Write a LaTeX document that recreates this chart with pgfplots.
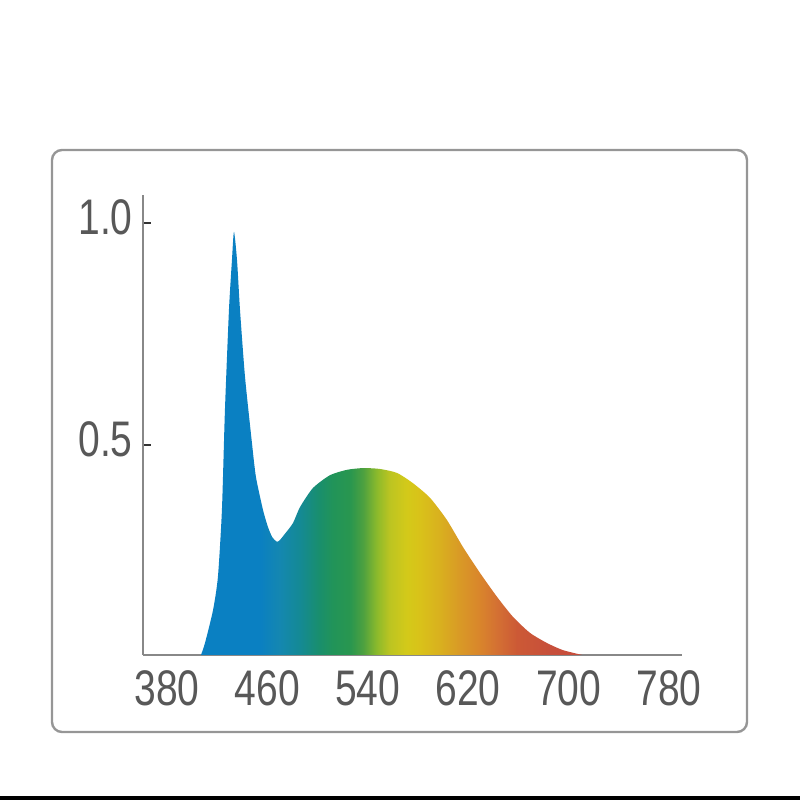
\documentclass[border=0pt]{standalone}
\usepackage{pgfplots}
\pgfplotsset{compat=1.18}
\usepackage{fontspec}
\setmainfont{Liberation Sans}[FakeStretch=0.78]

\definecolor{axisgray}{RGB}{136,136,136}
\definecolor{labelgray}{RGB}{88,88,88}
\definecolor{framegray}{RGB}{150,150,150}

% colour stops: the path's x range is mapped onto 25bp..75bp
\pgfdeclarehorizontalshading{spectrum}{100bp}{
 rgb(0bp)=(0.04,0.50,0.76);
 rgb(25bp)=(0.04,0.50,0.76);
 rgb(32.7bp)=(0.04,0.50,0.76);
 rgb(35.35bp)=(0.08,0.53,0.69);
 rgb(37.98bp)=(0.08,0.54,0.58);
 rgb(40.61bp)=(0.10,0.56,0.42);
 rgb(42.25bp)=(0.13,0.58,0.35);
 rgb(44.56bp)=(0.16,0.59,0.31);
 rgb(46.24bp)=(0.30,0.63,0.25);
 rgb(48.07bp)=(0.55,0.73,0.17);
 rgb(49.78bp)=(0.74,0.77,0.13);
 rgb(52.0bp)=(0.83,0.79,0.10);
 rgb(53.71bp)=(0.85,0.76,0.10);
 rgb(56.33bp)=(0.85,0.69,0.12);
 rgb(58.96bp)=(0.85,0.60,0.15);
 rgb(61.57bp)=(0.85,0.52,0.17);
 rgb(63.81bp)=(0.83,0.44,0.20);
 rgb(66.44bp)=(0.80,0.35,0.21);
 rgb(70.72bp)=(0.78,0.31,0.23);
 rgb(75bp)=(0.78,0.30,0.23);
 rgb(100bp)=(0.78,0.30,0.23)}

\begin{document}
\begin{tikzpicture}[x=1pt,y=1pt]
\path (0,0) rectangle (400,400);
\fill[black] (0,0) rectangle (400,2);
\draw[framegray, line width=1.2pt, rounded corners=5pt] (26,34) rectangle (373.5,325);
\begin{axis}[
  at={(71.5pt,72.5pt)}, anchor=south west,
  scale only axis, width=269.5pt, height=230pt,
  xmin=360.9, xmax=790.4, ymin=0.027, ymax=1.063,
  axis lines=left,
  axis line style={-, axisgray, line width=1.2pt},
  xtick={380,460,540,620,700,780},
  xticklabels={380,460,540,620,700,780},
  ytick={0.5,1.0}, yticklabels={0.5,1.0},
  xtick style={draw=none},
  ytick style={black!80, line width=1pt},
  tick align=inside, major tick length=4pt,
  ticklabel style={font=\fontsize{25}{25}\selectfont, text=labelgray, inner sep=0pt},
  xticklabel style={anchor=north, yshift=-7.5pt},
  yticklabel style={anchor=east, xshift=-5pt, yshift=3pt},
]
\addplot[draw=none, shade, shading=spectrum, smooth, tension=0.4] coordinates {
(407.1,0.027) (410.3,0.054) (416.7,0.128) (420.6,0.203) (423.8,0.354)
(426.2,0.579) (429.4,0.804) (431.8,0.917) (433.4,0.980) (435.8,0.917)
(438.2,0.804) (442.2,0.653) (447.7,0.505) (450.9,0.428) (456.5,0.354)
(460.5,0.315) (464.0,0.292) (467.6,0.282) (470.0,0.286) (474.0,0.300)
(480.4,0.324) (486.0,0.360) (496.3,0.403) (509.9,0.432) (523.4,0.444)
(536.2,0.448) (549.7,0.446) (563.3,0.437) (576.0,0.414) (589.6,0.381)
(603.1,0.331) (615.9,0.270) (629.4,0.212) (643.0,0.158) (655.7,0.113)
(669.2,0.077) (682.8,0.054) (695.5,0.038) (711.0,0.027)
} \closedcycle;
\end{axis}
\end{tikzpicture}
\end{document}
